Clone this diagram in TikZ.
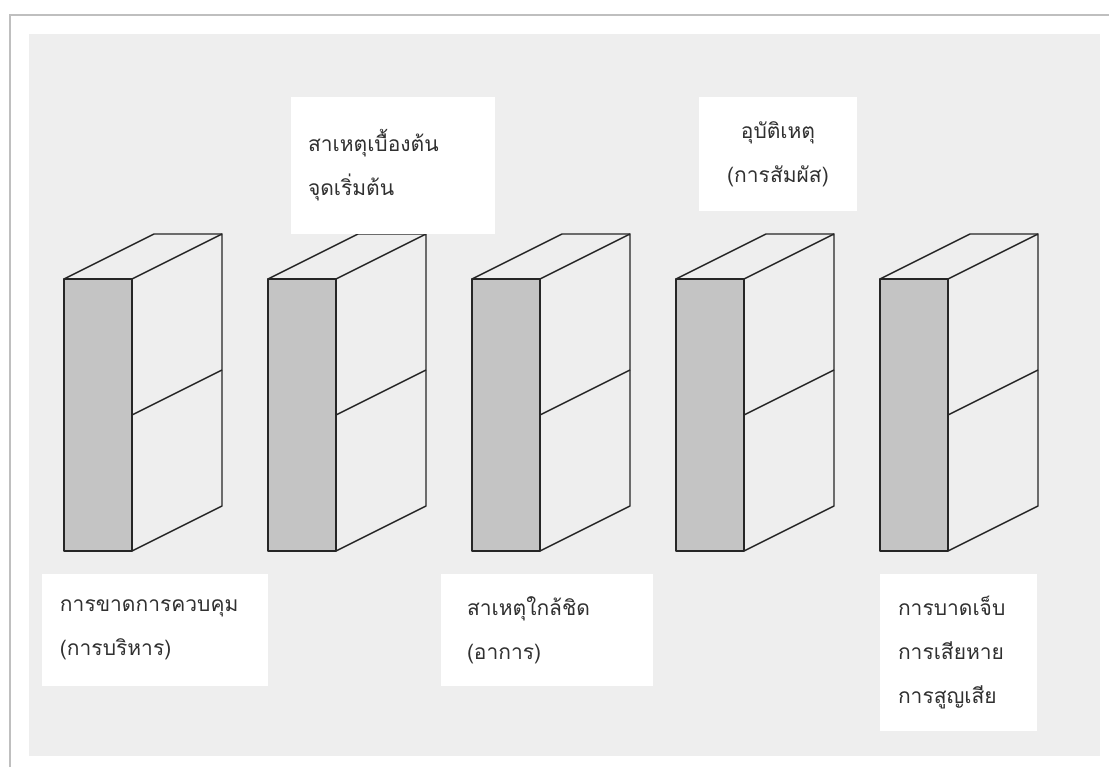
\documentclass[tikz,border=0pt]{standalone}
\usepackage{fontspec}
\newfontfamily\thaifont[Script=Thai]{Loma}
\usepackage{tikz}
\usetikzlibrary{positioning}
\definecolor{panelgray}{HTML}{EEEEEE}
\definecolor{facegray}{HTML}{C4C4C4}
\definecolor{inkgray}{HTML}{303030}
\tikzset{>=latex}
\tikzstyle{label box} = [draw = none, fill = white, inner ysep = 0, font = \thaifont\fontsize{10.5}{22}\selectfont, text = inkgray, align = left]
\tikzstyle{edge} = [draw = black!85, line width = 0.7pt, line join = round]

% one domino, front face starting at x = #1
\newcommand{\domino}[1]{%
  \fill [facegray] (#1, 279) rectangle (#1+68, 551);
  \draw [edge] (#1, 279) rectangle (#1+68, 551);
  \draw [edge] (#1+68, 279) -- (#1+158, 234) -- (#1+158, 506) -- (#1+68, 551);
  \draw [edge] (#1, 279) -- (#1+90, 234) -- (#1+158, 234);
  \draw [edge] (#1+68, 415) -- (#1+158, 370);
}

\begin{document}
\begin{tikzpicture}[x = 0.5pt, y = -0.5pt]
\useasboundingbox (0, 0) rectangle (1109, 767);
\fill [white] (0, 0) rectangle (1109, 767);
\draw [black!25, line width = 1pt] (10, 767) -- (10, 15) -- (1109, 15);
\fill [panelgray] (29, 34) rectangle (1100, 756);
\domino{64}
\domino{268}
\domino{472}
\domino{676}
\domino{880}
\node [label box, minimum height = 56pt, text width = 95pt, inner xsep = 9pt] (lack) at (155, 630) {การขาดการควบคุม\\(การบริหาร)};
\node [label box, minimum height = 68.5pt, text width = 85pt, inner xsep = 8.5pt] (basic) at (393, 165.5) {สาเหตุเบื้องต้น\\จุดเริ่มต้น\\[6pt]};
\node [label box, minimum height = 56pt, text width = 80pt, inner xsep = 13pt] (immediate) at (547, 630) {สาเหตุใกล้ชิด\\(อาการ)};
\node [label box, minimum height = 57pt, text width = 71pt, inner xsep = 4pt, align = center] (accident) at (778, 154) {อุบัติเหตุ\\(การสัมผัส)};
\node [label box, minimum height = 78.5pt, text width = 60.5pt, inner xsep = 9pt] (loss) at (958.5, 652.5) {การบาดเจ็บ\\การเสียหาย\\การสูญเสีย};
\end{tikzpicture}
\end{document}
